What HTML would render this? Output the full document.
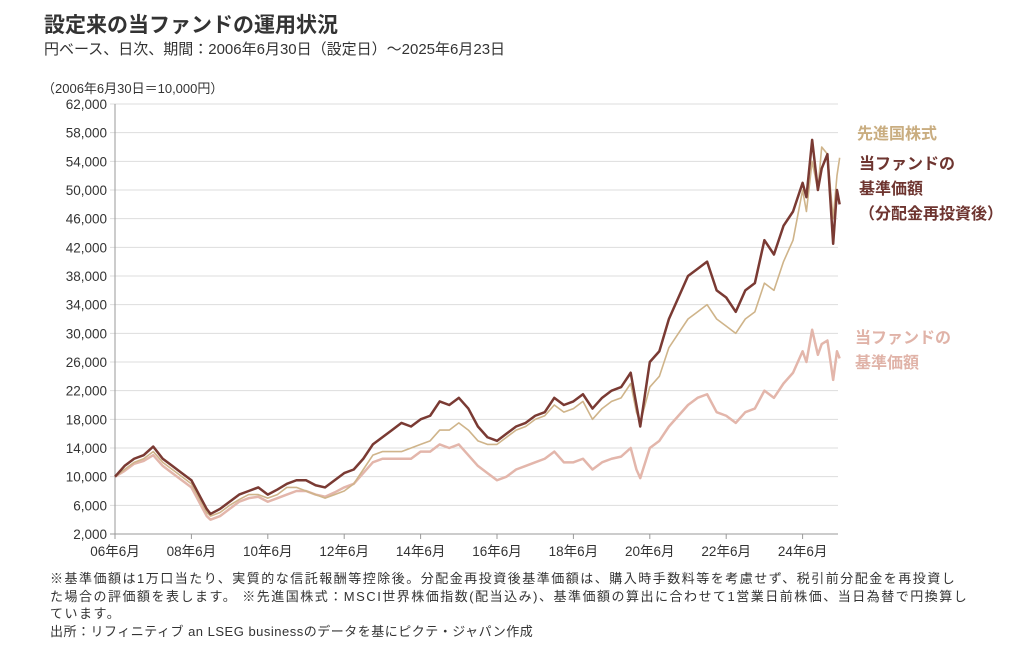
<!DOCTYPE html>
<html><head><meta charset="utf-8"><style>
body{margin:0;background:#fff;font-family:"Liberation Sans","Noto Sans CJK JP",sans-serif;}
#wrap{position:relative;width:1030px;height:662px;overflow:hidden;}
.t{position:absolute;white-space:nowrap;}
</style></head><body>
<div id="wrap">
<div class="t" style="left:44px;top:9px;font-size:21px;font-weight:bold;color:#333;">設定来の当ファンドの運用状況</div>
<div class="t" style="left:44px;top:38px;font-size:15px;color:#333;">円ベース、日次、期間：2006年6月30日（設定日）～2025年6月23日</div>
<div class="t" style="left:42px;top:78px;font-size:13px;color:#333;">（2006年6月30日＝10,000円）</div>
<svg id="chart" width="1030" height="662" style="position:absolute;left:0;top:0"></svg>
<div class="t" style="left:857px;top:120px;font-size:16px;font-weight:bold;color:#c9ad80;">先進国株式</div>
<div class="t" style="left:859px;top:152px;font-size:16px;font-weight:bold;color:#6e3530;line-height:25px;">当ファンドの<br>基準価額<br>（分配金再投資後）</div>
<div class="t" style="left:855px;top:326px;font-size:16px;font-weight:bold;color:#e0b3a8;line-height:25px;">当ファンドの<br>基準価額</div>
<div class="t" style="left:50px;top:570px;font-size:13px;color:#333;line-height:17.5px;letter-spacing:1.5px;">※基準価額は1万口当たり、実質的な信託報酬等控除後。分配金再投資後基準価額は、購入時手数料等を考慮せず、税引前分配金を再投資し<br>た場合の評価額を表します。 ※先進国株式：MSCI世界株価指数(配当込み)、基準価額の算出に合わせて1営業日前株価、当日為替で円換算し<br>ています。<br><span style="letter-spacing:0.5px">出所：リフィニティブ an LSEG businessのデータを基にピクテ・ジャパン作成</span></div>
</div>
<script>
const yTicks=[2000,6000,10000,14000,18000,22000,26000,30000,34000,38000,42000,46000,50000,54000,58000,62000];
const xTickYears=[2006.5,2008.5,2010.5,2012.5,2014.5,2016.5,2018.5,2020.5,2022.5,2024.5];
const xTickLabels=["06年6月","08年6月","10年6月","12年6月","14年6月","16年6月","18年6月","20年6月","22年6月","24年6月"];
const dates=[2006.5,2006.75,2007.0,2007.25,2007.5,2007.75,2008.0,2008.25,2008.5,2008.75,2008.9,2009.0,2009.25,2009.5,2009.75,2010.0,2010.25,2010.5,2010.75,2011.0,2011.25,2011.5,2011.75,2012.0,2012.25,2012.5,2012.75,2013.0,2013.25,2013.5,2013.75,2014.0,2014.25,2014.5,2014.75,2015.0,2015.25,2015.5,2015.75,2016.0,2016.25,2016.5,2016.75,2017.0,2017.25,2017.5,2017.75,2018.0,2018.25,2018.5,2018.75,2019.0,2019.25,2019.5,2019.75,2020.0,2020.15,2020.25,2020.5,2020.75,2021.0,2021.25,2021.5,2021.75,2022.0,2022.25,2022.5,2022.75,2023.0,2023.25,2023.5,2023.75,2024.0,2024.25,2024.5,2024.6,2024.75,2024.9,2025.0,2025.15,2025.3,2025.4,2025.47];
const fundReinvested=[10000,11500,12500,13000,14200,12500,11500,10500,9500,7000,5500,4800,5500,6500,7500,8000,8500,7500,8200,9000,9500,9500,8800,8500,9500,10500,11000,12500,14500,15500,16500,17500,17000,18000,18500,20500,20000,21000,19500,17000,15500,15000,16000,17000,17500,18500,19000,21000,20000,20500,21500,19500,21000,22000,22500,24500,20000,17000,26000,27500,32000,35000,38000,39000,40000,36000,35000,33000,36000,37000,43000,41000,45000,47000,51000,49000,57000,50000,53000,55000,42500,50000,48000];
const msci=[10000,11000,12000,12500,13500,12000,11000,10000,9000,6500,5000,4500,5000,6000,6800,7500,7500,7000,7500,8500,8500,8000,7500,7000,7500,8000,9000,11000,13000,13500,13500,13500,14000,14500,15000,16500,16500,17500,16500,15000,14500,14500,15500,16500,17000,18000,18500,20000,19000,19500,20500,18000,19500,20500,21000,23000,19000,17500,22500,24000,28000,30000,32000,33000,34000,32000,31000,30000,32000,33000,37000,36000,40000,43000,50000,47000,54000,50000,56000,55000,46000,52000,54500];
const fundNav=[10000,10800,11800,12200,13000,11500,10500,9500,8500,6000,4500,4000,4500,5500,6500,7000,7200,6500,7000,7500,8000,8000,7500,7200,7800,8500,9000,10500,12000,12500,12500,12500,12500,13500,13500,14500,14000,14500,13000,11500,10500,9500,10000,11000,11500,12000,12500,13500,12000,12000,12500,11000,12000,12500,12800,14000,11000,9800,14000,15000,17000,18500,20000,21000,21500,19000,18500,17500,19000,19500,22000,21000,23000,24500,27500,26000,30500,27000,28500,29000,23500,27500,26500];
const svg=document.getElementById('chart');const NS='http://www.w3.org/2000/svg';
const X0=115,X1=838,Y0=534,Y1=104;
const xs=y=>X0+(y-2006.5)*38.2;
const ys=v=>Y0-(v-2000)/60000*(Y0-Y1);
function mk(t,a){const e=document.createElementNS(NS,t);for(const k in a)e.setAttribute(k,a[k]);svg.appendChild(e);return e;}
yTicks.forEach(v=>{
 const g=mk('line',{x1:X0-5,x2:X1,y1:ys(v),y2:ys(v),stroke:v===2000?'#999':'#ddd','stroke-width':1});
 
 
 const t=mk('text',{x:X0-8,y:ys(v)+5,'text-anchor':'end','font-size':13.5,fill:'#333','font-family':'Liberation Sans, sans-serif'});
 t.textContent=v.toLocaleString('en-US');
 
 
});
const ax=mk('line',{x1:X0,x2:X0,y1:Y1,y2:Y0+5,stroke:'#999'});


xTickYears.forEach((yr,i)=>{
 const tk=mk('line',{x1:xs(yr),x2:xs(yr),y1:Y0,y2:Y0+5,stroke:'#999'});
 
 
 const t=mk('text',{x:xs(yr),y:Y0+22,'text-anchor':'middle','font-size':13.5,fill:'#333','font-family':'Liberation Sans, Noto Sans CJK JP, sans-serif'});
 t.textContent=xTickLabels[i];
 
 
});
function line(arr,color,w,name){
 const p=mk('polyline',{points:arr.map((v,i)=>xs(dates[i])+','+ys(v)).join(' '),fill:'none',stroke:color,'stroke-width':w,'stroke-linejoin':'round'});
 
 
}
line(fundNav,'#e3b6ab',2.5,'series-fund-nav');
line(msci,'#cfb48a',1.6,'series-msci');
line(fundReinvested,'#7a3a33',2.5,'series-fund-reinvested');
</script>
</body></html>
